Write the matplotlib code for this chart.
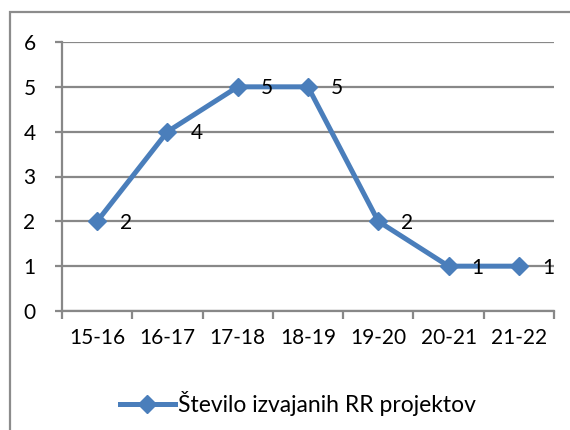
import matplotlib
matplotlib.use("Agg")
import matplotlib.pyplot as plt
from matplotlib.patches import Rectangle
from matplotlib.lines import Line2D

categories = ["15-16", "16-17", "17-18", "18-19", "19-20", "20-21", "21-22"]
values = [2, 4, 5, 5, 2, 1, 1]
series_name = "Število izvajanih RR projektov"
yticks = [0, 1, 2, 3, 4, 5, 6]

W, H = 570, 430
fig = plt.figure(figsize=(W / 100, H / 100), dpi=100)
plt.rcParams['font.family'] = ['Lato', 'DejaVu Sans']

blue = "#4A7EBB"
grid = "#888888"
FS = 15

# chart border (extends past right/bottom edge)
fig.patches.append(Rectangle((10 / W, -0.05), 1.2, 1 - 12 / H + 0.05,
                             transform=fig.transFigure, fill=False,
                             edgecolor="#8C8C8C", linewidth=1.6))

left, right, top, bottom = 62, 554, 42, 311
ax = fig.add_axes([left / W, 1 - bottom / H, (right - left) / W, (bottom - top) / H])
x = list(range(len(categories)))
ax.set_xlim(-0.5, len(categories) - 0.5)
ax.set_ylim(0, 6)

for s in ["top", "right"]:
    ax.spines[s].set_visible(False)
for s in ["left", "bottom"]:
    ax.spines[s].set_color(grid)
    ax.spines[s].set_linewidth(1.6)

ax.set_yticks(yticks)
ax.set_yticklabels([str(v) for v in yticks], fontsize=FS)
ax.yaxis.grid(True, color=grid, linewidth=1.6)
ax.set_axisbelow(True)
ax.tick_params(axis="y", length=5, width=1.6, color=grid, pad=14)

ax.set_xticks([i - 0.5 for i in range(len(categories) + 1)], minor=False)
ax.set_xticklabels([""] * (len(categories) + 1))
ax.set_xticks(x, minor=True)
ax.set_xticklabels(categories, minor=True, fontsize=FS)
ax.tick_params(axis="x", which="major", length=6, width=1.6, color=grid)
ax.tick_params(axis="x", which="minor", length=0, pad=12)

ax.plot(x, values, color=blue, linewidth=3.6, marker="D", markersize=9,
        markerfacecolor=blue, markeredgecolor=blue, solid_joinstyle="round",
        clip_on=False, zorder=3)

for xi, v in zip(x, values):
    ax.annotate(str(v), (xi, v), xytext=(21, -1), textcoords="offset points",
                ha="center", va="center", fontsize=FS, zorder=4)

handle = Line2D([], [], color=blue, linewidth=3.6, marker="D", markersize=9,
                markerfacecolor=blue, markeredgecolor=blue)
fig.legend([handle], [series_name], loc="center", bbox_to_anchor=(298 / W, 1 - 404 / H),
           frameon=False, fontsize=16.5, handlelength=2.4, handletextpad=0.15)

fig.savefig("out.png", dpi=100)
